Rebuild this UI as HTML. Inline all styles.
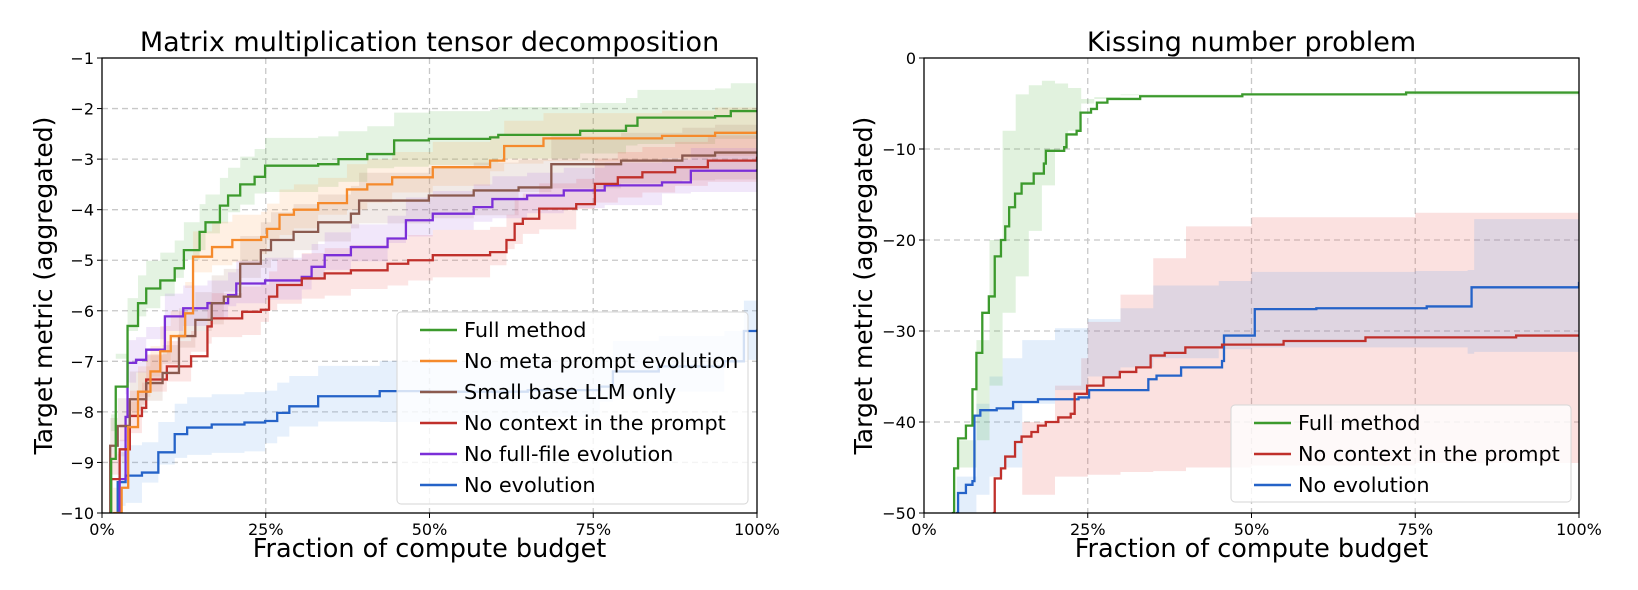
<!DOCTYPE html>
<html><head><meta charset="utf-8"><style>
body{margin:0;background:#fff;}
svg{display:block;font-family:"DejaVu Sans","Liberation Sans",sans-serif;}
</style></head><body>
<svg id="c" width="1638" height="590" viewBox="0 0 1638 590"></svg>
<script>
// ---------- LEFT: Matrix multiplication ----------
const leftNames=["Full method","No meta prompt evolution","Small base LLM only","No context in the prompt","No full-file evolution","No evolution"];
const fullX=[1.2,1.4,2.1,3.9,5.5,6.75,8.9,11.1,12.5,14.9,15.8,18,19.25,21.1,23.3,24.9,33,36.1,40.5,44.6,49.9,59.25,60.5,73,80,81.75,93.6,96,100];
const fullY=[-10,-8.93,-7.5,-6.3,-5.85,-5.56,-5.4,-5.16,-4.8,-4.44,-4.25,-3.92,-3.72,-3.5,-3.35,-3.13,-3.1,-3.0,-2.9,-2.63,-2.6,-2.57,-2.52,-2.44,-2.34,-2.18,-2.15,-2.05,-2.05];
const metaX=[1.7,3,4,5.5,7.4,8.9,10.5,12.7,13.9,16.8,19.9,24.3,25.2,27.1,29.3,33,37.4,40.5,44.3,50.5,59.25,61.4,67.4,85.5,93.6,100];
const metaY=[-10,-9.5,-8.3,-7.6,-7.2,-6.8,-6.5,-6.05,-4.93,-4.74,-4.6,-4.54,-4.38,-4.1,-4.0,-3.87,-3.6,-3.5,-3.36,-3.16,-3.03,-2.74,-2.59,-2.54,-2.48,-2.44];
const smallX=[1.1,1.25,2.4,4.25,6.75,9.25,11.75,14.25,16.75,18.6,21.1,24.25,25.8,29.25,33,38,39.25,49.9,56.75,63.6,68.6,79.25,88.6,93.6,100];
const smallY=[-10,-8.67,-8.28,-7.75,-7.43,-7.23,-6.5,-6.18,-5.85,-5.72,-5.07,-4.8,-4.6,-4.44,-4.25,-4.08,-3.82,-3.72,-3.62,-3.56,-3.1,-3.03,-2.93,-2.87,-2.85];
const ctxX=[1.3,1.4,2.7,4.25,6.1,6.75,9.9,13.6,16.1,16.75,21.4,24.25,25.5,26.75,30.5,34,38,43.6,46.75,50.5,59.25,61.75,63,64.25,66.75,72.4,75.25,78.75,82.5,87.5,92.5,100];
const ctxY=[-10,-9.33,-8.74,-8.08,-7.92,-7.36,-7.1,-6.9,-6.31,-6.15,-6.02,-5.98,-5.72,-5.49,-5.36,-5.26,-5.2,-5.07,-5.0,-4.9,-4.84,-4.6,-4.28,-4.18,-3.98,-3.89,-3.49,-3.36,-3.26,-3.16,-3.03,-2.95];
const fileX=[2.6,2.7,3.6,3.9,5.2,6.75,9.6,12.4,16.1,19.25,20.5,24.9,30.5,32,34,38,43.6,46.4,50.5,56.75,59.6,64.9,70.5,76.75,85.5,89.9,100];
const fileY=[-10,-9.33,-8.1,-7.03,-6.97,-6.77,-6.11,-5.95,-5.85,-5.69,-5.46,-5.4,-5.33,-5.13,-4.9,-4.74,-4.57,-4.21,-4.08,-3.95,-3.79,-3.72,-3.62,-3.52,-3.46,-3.23,-3.2];
const noevoX=[2.2,2.4,3.6,6.1,8.6,11.1,13,16.75,21.75,24.9,26.75,28.6,33,42.4,50,65,76,78,85,95,98,100];
const noevoY=[-10,-9.39,-9.26,-9.2,-8.8,-8.44,-8.31,-8.25,-8.21,-8.18,-8.02,-7.89,-7.69,-7.59,-7.6,-7.57,-7.5,-7.2,-7.1,-7.0,-6.4,-6.37];
const leftSpread=[0.55,0.5,0.55,0.5,0.45,0.6];
const leftTicksY=[-1,-2,-3,-4,-5,-6,-7,-8,-9,-10];
const xTicks=[0,25,50,75,100];
const xTickLabels=["0%","25%","50%","75%","100%"];

// ---------- RIGHT: Kissing number ----------
const rightNames=["Full method","No context in the prompt","No evolution"];
const kFullX=[4.25,4.6,5.2,6.4,7.4,8,8.9,9.9,10.8,11.75,12.4,13,13.9,14.9,16.75,18.3,18.6,21.4,21.75,23.3,23.9,25.5,26.4,28,33,48.6,73.6,100];
const kFullY=[-50,-45.1,-41.8,-40.4,-36.4,-32.4,-28,-26.2,-21.8,-20,-18.5,-16.4,-14.9,-13.8,-12.7,-11.6,-10.2,-9.8,-8.4,-8,-6,-5.6,-4.9,-4.5,-4.2,-4.0,-3.8,-3.7];
const kCtxX=[10.5,10.8,11.75,12.4,13.9,14.9,16.4,17.4,18.6,20.5,22.4,23,24.9,27.4,29.9,32.4,34.6,36.75,39.9,45.5,54.9,67.4,90.4,100];
const kCtxY=[-50,-46.2,-45.1,-43.8,-42.2,-41.6,-41.1,-40.4,-40,-39.5,-39.1,-36.9,-36,-35.1,-34.5,-34,-32.7,-32.4,-31.8,-31.5,-31.1,-30.7,-30.5,-30.5];
const kEvoX=[4.9,5.2,6.4,7.4,7.7,8.6,11.1,13.6,17.4,23.6,25.2,34.25,35.5,39.25,45.5,45.8,50.5,59.9,76.75,83.6,100];
const kEvoY=[-50,-47.8,-46.9,-46.5,-39.3,-38.7,-38.5,-37.8,-37.5,-37.3,-36.5,-35.3,-34.9,-34,-33.3,-30.5,-27.6,-27.5,-27.3,-25.2,-24.6];
const kFullBandX=[3,5,8,10,12,14,16,18,20,22,24,26,30,100];
const kFullBandHi=[-50,-42,-31,-20,-8,-4,-3,-2.5,-2.8,-3.3,-4.5,-4.3,-4,-3.4];
const kFullBandLo=[-50,-50,-45,-42,-36,-28,-24,-19,-14,-10,-8,-5,-4.5,-4.1];
const kCtxBandX=[10,15,20,24,25,30,35,40,50,75,100];
const kCtxBandHi=[-50,-40,-36,-33,-29,-26,-22,-18.5,-17.5,-17,-16.6];
const kCtxBandLo=[-50,-50,-48,-46,-46,-45.8,-45.5,-45.4,-45,-44.8,-44.5];
const kEvoBandX=[5,8,10,12,15,20,25,30,35,45,50,75,83,84,100];
const kEvoBandHi=[-46,-38,-35,-33,-31,-29.7,-28.7,-27.5,-25,-24.5,-23.5,-23.4,-23.3,-17.7,-17.5];
const kEvoBandLo=[-50,-50,-48,-46,-45,-38,-36.5,-35,-34,-33,-32,-31.8,-31.8,-32.5,-32.3];
const rightTicksY=[0,-10,-20,-30,-40,-50];

const NS="http://www.w3.org/2000/svg";
const svg=document.getElementById('c');
function mk(tag,attrs,parent){const e=document.createElementNS(NS,tag);for(const k in attrs)e.setAttribute(k,attrs[k]);(parent||svg).appendChild(e);return e;}

function makeAxes(x0,x1,y0,y1,ymax,ymin,id){
  const sx=v=>x0+(v/100)*(x1-x0);
  const sy=v=>y0+(ymax-v)/(ymax-ymin)*(y1-y0);
  const cp=mk('clipPath',{id:id});
  mk('rect',{x:x0,y:y0,width:x1-x0,height:y1-y0},cp);
  return {sx,sy,x0,x1,y0,y1};
}
function stepPath(ax,xs,ys){
  let d='M'+ax.sx(xs[0])+','+ax.sy(ys[0]);
  for(let i=1;i<xs.length;i++){d+=' H'+ax.sx(xs[i])+' V'+ax.sy(ys[i]);}
  return d;
}
function bandPath(ax,xs,lo,hi){
  let d='M'+ax.sx(xs[0])+','+ax.sy(hi[0]);
  for(let i=1;i<xs.length;i++){d+=' H'+ax.sx(xs[i])+' V'+ax.sy(hi[i]);}
  for(let i=xs.length-1;i>0;i--){d+=' V'+ax.sy(lo[i])+' H'+ax.sx(xs[i-1]);}
  d+=' V'+ax.sy(lo[0])+' Z';
  return d;
}
function grid(ax,yt,g){
  xTicks.forEach((t,i)=>{
    if(i>0&&i<4){const l=mk('line',{x1:ax.sx(t),x2:ax.sx(t),y1:ax.y0,y2:ax.y1,stroke:'#c8c8c8','stroke-dasharray':'6,4','stroke-width':1.3},g);
    
    }
  });
  yt.forEach((t,i)=>{
    if(i>0&&i<yt.length-1){const l=mk('line',{x1:ax.x0,x2:ax.x1,y1:ax.sy(t),y2:ax.sy(t),stroke:'#c8c8c8','stroke-dasharray':'6,4','stroke-width':1.3},g);
    
    }
  });
}
function ticks(ax,yt,g){
  xTicks.forEach((t,i)=>{
    mk('line',{x1:ax.sx(t),x2:ax.sx(t),y1:ax.y1,y2:ax.y1+5,stroke:'#000'},g);
    const tx=mk('text',{x:ax.sx(t),y:ax.y1+22,'font-size':16,'text-anchor':'middle'},g);
    tx.textContent=xTickLabels[i];
    
    
  });
  yt.forEach(t=>{
    mk('line',{x1:ax.x0-5,x2:ax.x0,y1:ax.sy(t),y2:ax.sy(t),stroke:'#000'},g);
    const tx=mk('text',{x:ax.x0-8,y:ax.sy(t)+6,'font-size':16,'text-anchor':'end'},g);
    tx.textContent=String(t).replace('-','\u2212');
    
    
  });
  mk('rect',{x:ax.x0,y:ax.y0,width:ax.x1-ax.x0,height:ax.y1-ax.y0,fill:'none',stroke:'#000','stroke-width':1.3},g);
}
function labels(ax,title,g,ylx){
  const t=mk('text',{x:(ax.x0+ax.x1)/2,y:ax.y0-7,'font-size':27,'text-anchor':'middle'},g);
  t.textContent=title;
  
  
  const xl=mk('text',{x:(ax.x0+ax.x1)/2,y:ax.y1+44,'font-size':25.5,'text-anchor':'middle'},g);
  xl.textContent='Fraction of compute budget';
  
  
  const cy=(ax.y0+ax.y1)/2;
  const yl=mk('text',{x:ylx,y:cy,'font-size':25,'text-anchor':'middle',transform:'rotate(-90 '+ylx+' '+cy+')'},g);
  yl.textContent='Target metric (aggregated)';
  
  
}
function legend(g,x,y,w,h,names,colors){
  const r=mk('rect',{x:x,y:y,width:w,height:h,rx:4,fill:'#fff','fill-opacity':0.8,stroke:'#d6d6d6'},g);
  
  
  names.forEach((n,i)=>{
    const ey=y+18+i*31;
    const eg=mk('g',{},g);
    
    
    mk('line',{x1:x+23,x2:x+60,y1:ey,y2:ey,stroke:colors[i],'stroke-width':2.6},eg);
    const t=mk('text',{x:x+67,y:ey+7,'font-size':20.8},eg);
    t.textContent=n;
  });
}

// Left chart
const L=makeAxes(102,757,58,513,-1,-10,'clipL');
const gL=mk('g',{});


grid(L,leftTicksY,gL);
const leftX=[fullX,metaX,smallX,ctxX,fileX,noevoX];
const leftY=[fullY,metaY,smallY,ctxY,fileY,noevoY];
const leftColors=['#3c9a2d','#f58a2c','#8b5a4f','#c0302b','#7b2fd8','#2563c8'];
const leftBand=['#4caf3c','#ff9a40','#a0705f','#e8504a','#a060e0','#5a9ae8'];
const bgL=mk('g',{'clip-path':'url(#clipL)'},gL);
leftX.forEach((xs,i)=>{
  const lo=leftY[i].map(v=>v-leftSpread[i]), hi=leftY[i].map(v=>v+leftSpread[i]);
  const p=mk('path',{d:bandPath(L,xs,lo,hi),fill:leftBand[i],'fill-opacity':0.15,stroke:'none'},bgL);
  
  
});
[5,4,3,2,1,0].forEach(i=>{
  const p=mk('path',{d:stepPath(L,leftX[i],leftY[i]),fill:'none',stroke:leftColors[i],'stroke-width':2.3},bgL);
  
  
});
ticks(L,leftTicksY,gL);
labels(L,'Matrix multiplication tensor decomposition',gL,52);
legend(gL,397,312,351,192,leftNames,leftColors);

// Right chart
const R=makeAxes(924,1579,58,513,0,-50,'clipR');
const gR=mk('g',{});


grid(R,rightTicksY,gR);
const rightColors=['#3c9a2d','#c0302b','#2563c8'];
const bgR=mk('g',{'clip-path':'url(#clipR)'},gR);
const bands=[[kCtxBandX,kCtxBandLo,kCtxBandHi,'#e8504a'],[kEvoBandX,kEvoBandLo,kEvoBandHi,'#5a9ae8'],[kFullBandX,kFullBandLo,kFullBandHi,'#4caf3c']];
bands.forEach(b=>{
  const p=mk('path',{d:bandPath(R,b[0],b[1],b[2]),fill:b[3],'fill-opacity':0.17,stroke:'none'},bgR);
  
  
});
const rX=[kFullX,kCtxX,kEvoX], rY=[kFullY,kCtxY,kEvoY];
[2,1,0].forEach(i=>{
  const p=mk('path',{d:stepPath(R,rX[i],rY[i]),fill:'none',stroke:rightColors[i],'stroke-width':2.3},bgR);
  
  
});
ticks(R,rightTicksY,gR);
labels(R,'Kissing number problem',gR,872);
legend(gR,1231,405,340,97,rightNames,rightColors);
</script>
</body></html>
